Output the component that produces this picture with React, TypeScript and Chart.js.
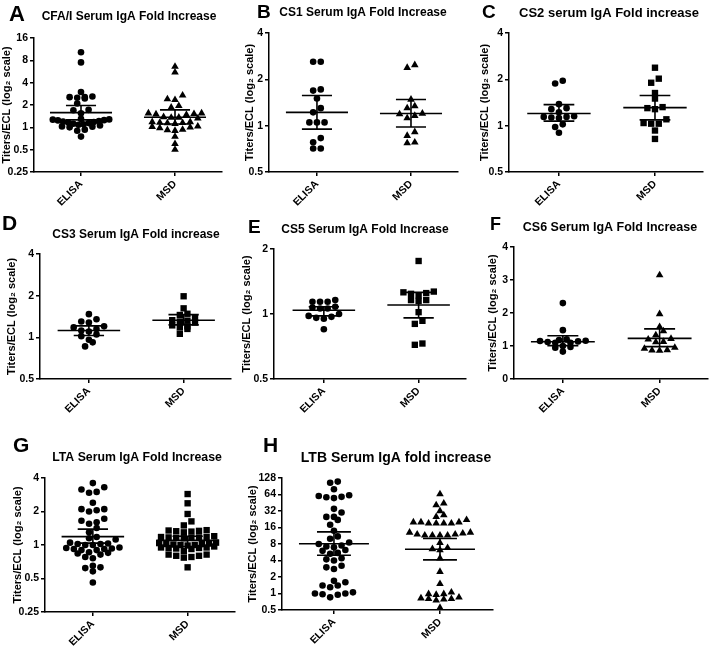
import React, { useEffect, useRef } from "react";
import { Chart, registerables } from "chart.js";
Chart.register(...registerables);

const FONT = '"Liberation Sans", Arial, Helvetica, sans-serif';
const PAGE_W = 714;
const PAGE_H = 646;
const groups = ["ELISA", "MSD"];
const yAxisTitle = "Titers/ECL (log\u2082 scale)";

// ---------- Panel A: CFA/I ----------
const aTicks = [0.25, 0.5, 1, 2, 4, 8, 16];
const aElisa = [10.3, 7.5, 3.0, 2.6, 2.55, 2.5, 2.45, 2.55, 2.1, 1.72, 1.55, 1.7, 1.3, 1.28, 1.25, 1.22, 1.18, 1.14, 1.1, 1.06, 1.02, 1.0, 1.03, 1.08, 1.12, 1.16, 1.2, 1.24, 1.27, 0.93, 0.9, 0.75];
const aMsd = [6.6, 5.5, 2.7, 2.4, 2.35, 1.95, 1.85, 1.55, 1.5, 1.52, 1.48, 1.55, 1.38, 1.35, 1.32, 1.36, 1.18, 1.15, 1.12, 1.16, 1.14, 1.18, 1.02, 1.0, 0.98, 1.03, 0.93, 0.92, 0.9, 0.75, 0.6, 0.5];
const aMean = [1.58, 1.37];
const aLow = [1.26, 1.11];
const aHigh = [1.97, 1.72];

// ---------- Panel B: CS1 ----------
const bTicks = [0.5, 1, 2, 4];
const bElisa = [2.6, 2.6, 1.72, 1.69, 1.5, 1.3, 1.22, 1.05, 1.05, 1.05, 0.83, 0.78, 0.71, 0.71];
const bMsd = [2.48, 2.38, 1.48, 1.34, 1.3, 1.19, 1.2, 1.12, 1.16, 0.91, 0.86, 0.77, 0.78];
const bMean = [1.22, 1.2];
const bLow = [0.95, 0.98];
const bHigh = [1.57, 1.48];

// ---------- Panel C: CS2 ----------
const cTicks = [0.5, 1, 2, 4];
const cElisa = [1.96, 1.88, 1.38, 1.3, 1.28, 1.22, 1.15, 1.14, 1.13, 1.14, 1.12, 1.02, 0.98, 0.9];
const cMsd = [2.38, 2.02, 1.9, 1.63, 1.5, 1.3, 1.28, 1.32, 1.1, 1.04, 1.03, 1.03, 0.93, 0.82];
const cMean = [1.2, 1.31];
const cLow = [1.07, 1.09];
const cHigh = [1.37, 1.57];

// ---------- Panel D: CS3 ----------
const dTicks = [0.5, 1, 2, 4];
const dElisa = [1.47, 1.35, 1.3, 1.28, 1.2, 1.18, 1.15, 1.12, 1.1, 1.05, 1.02, 0.96, 0.92, 0.86];
const dMsd = [1.98, 1.62, 1.48, 1.45, 1.38, 1.33, 1.32, 1.3, 1.28, 1.22, 1.2, 1.18, 1.15, 1.06];
const dMean = [1.12, 1.33];
const dLow = [1.03, 1.23];
const dHigh = [1.21, 1.46];

// ---------- Panel E: CS5 ----------
const eTicks = [0.5, 1, 2];
const eElisa = [1.16, 1.14, 1.14, 1.14, 1.08, 1.07, 1.06, 1.06, 1.0, 0.98, 0.97, 0.96, 0.95, 0.85];
const eMsd = [1.76, 1.27, 1.25, 1.24, 1.22, 1.26, 1.16, 1.15, 1.16, 1.02, 0.93, 0.9, 0.73, 0.72];
const eMean = [1.04, 1.1];
const eLow = [0.98, 0.96];
const eHigh = [1.08, 1.26];

// ---------- Panel F: CS6 ----------
const fTicks = [0, 1, 2, 3, 4];
const fElisa = [2.3, 1.48, 1.2, 1.18, 1.16, 1.15, 1.14, 1.12, 1.1, 1.1, 1.0, 0.97, 0.95, 0.83];
const fMsd = [3.15, 1.97, 1.58, 1.45, 1.33, 1.22, 1.12, 1.13, 1.2, 0.95, 0.88, 0.86, 0.87, 0.92];
const fMean = [1.13, 1.23];
const fLow = [1.01, 0.98];
const fHigh = [1.31, 1.52];

// ---------- Panel G: LTA ----------
const gTicks = [0.25, 0.5, 1, 2, 4];
const gElisa = [3.6, 3.3, 3.15, 3.0, 2.95, 2.4, 2.1, 2.0, 2.05, 2.1, 1.72, 1.65, 1.6, 1.55, 1.42, 1.3, 1.18, 1.15, 1.12, 1.05, 1.02, 1.0, 1.0, 1.02, 1.03, 0.95, 0.93, 0.92, 0.9, 0.92, 0.94, 0.9, 0.85, 0.84, 0.82, 0.86, 0.78, 0.76, 0.65, 0.63, 0.62, 0.58, 0.46];
const gMsd = [2.87, 2.37, 1.9, 1.63, 1.5, 1.36, 1.34, 1.33, 1.35, 1.32, 1.3, 1.2, 1.18, 1.17, 1.16, 1.18, 1.17, 1.15, 1.16, 1.05, 1.03, 1.02, 1.0, 1.01, 1.0, 0.99, 1.02, 1.04, 0.97, 0.95, 0.94, 0.93, 0.92, 0.94, 0.95, 0.88, 0.82, 0.8, 0.78, 0.77, 0.8, 0.82, 0.63];
const gMean = [1.19, 1.1];
const gLow = [1.04, 0.97];
const gHigh = [1.39, 1.2];

// ---------- Panel H: LTB ----------
const hTicks = [0.5, 1, 2, 4, 8, 16, 32, 64, 128];
const hElisa = [110, 105, 80, 62, 58, 55, 57, 60, 35, 30, 25, 22, 25, 18, 14, 11, 10, 8.5, 8, 7.5, 7, 7.2, 6.2, 6, 5.5, 5.3, 4.2, 4, 4.4, 3, 2.8, 3.2, 1.7, 1.4, 1.6, 1.3, 1.4, 1.05, 1.0, 0.95, 0.97, 1.0, 0.85];
const hMsd = [65, 44, 41, 32, 27, 25, 20, 19, 19, 19, 19, 20, 20, 22, 13, 12.5, 11.5, 11.5, 11.5, 11.5, 12, 12, 13, 8.4, 6.8, 6.2, 6.5, 4.4, 2.5, 1.5, 1.05, 0.98, 0.85, 0.8, 0.8, 0.78, 0.75, 0.82, 0.95, 0.98, 0.55];
const hMean = [8.1, 6.4];
const hLow = [5.0, 4.1];
const hHigh = [13.3, 10.1];

type PanelDef = {
  letter: string;
  title: string;
  yType: "logarithmic" | "linear";
  yMin: number;
  yMax: number;
  ticks: number[];
  series: number[][];
  styles: string[];
  mean: number[];
  low: number[];
  high: number[];
  area: { left: number; right: number; top: number; bottom: number };
  xMin: number;
  xMax: number;
  yTitleGap: number;
  letterPos: [number, number, number];
  titlePos: [number, number, number];
};

const panels: PanelDef[] = [
  { letter: "A", title: "CFA/I Serum IgA Fold Increase", yType: "logarithmic", yMin: 0.25, yMax: 16, ticks: aTicks,
    series: [aElisa, aMsd], styles: ["circle", "triangle"], mean: aMean, low: aLow, high: aHigh,
    area: { left: 34, right: 222, top: 38, bottom: 172 }, xMin: 0.5, xMax: 2.5, yTitleGap: 27,
    letterPos: [9, 21, 22], titlePos: [129, 17, 12] },
  { letter: "B", title: "CS1 Serum IgA Fold Increase", yType: "logarithmic", yMin: 0.5, yMax: 4, ticks: bTicks,
    series: [bElisa, bMsd], styles: ["circle", "triangle"], mean: bMean, low: bLow, high: bHigh,
    area: { left: 269, right: 458, top: 33, bottom: 172 }, xMin: 0.49, xMax: 2.5, yTitleGap: 19,
    letterPos: [257, 18, 19], titlePos: [363, 13, 12] },
  { letter: "C", title: "CS2 serum IgA Fold increase", yType: "logarithmic", yMin: 0.5, yMax: 4, ticks: cTicks,
    series: [cElisa, cMsd], styles: ["circle", "rect"], mean: cMean, low: cLow, high: cHigh,
    area: { left: 509, right: 703, top: 33, bottom: 172 }, xMin: 0.48, xMax: 2.5, yTitleGap: 24,
    letterPos: [482, 18, 19], titlePos: [609, 13, 13] },
  { letter: "D", title: "CS3 Serum IgA Fold increase", yType: "logarithmic", yMin: 0.5, yMax: 4, ticks: dTicks,
    series: [dElisa, dMsd], styles: ["circle", "rect"], mean: dMean, low: dLow, high: dHigh,
    area: { left: 40, right: 231, top: 254, bottom: 379 }, xMin: 0.484, xMax: 2.5, yTitleGap: 28,
    letterPos: [2, 230, 21], titlePos: [136, 235, 12] },
  { letter: "E", title: "CS5 Serum IgA Fold Increase", yType: "logarithmic", yMin: 0.5, yMax: 2, ticks: eTicks,
    series: [eElisa, eMsd], styles: ["circle", "rect"], mean: eMean, low: eLow, high: eHigh,
    area: { left: 274, right: 466, top: 249, bottom: 379 }, xMin: 0.474, xMax: 2.5, yTitleGap: 27,
    letterPos: [248, 233, 19], titlePos: [365, 230, 12] },
  { letter: "F", title: "CS6 Serum IgA Fold Increase", yType: "linear", yMin: 0, yMax: 4, ticks: fTicks,
    series: [fElisa, fMsd], styles: ["circle", "triangle"], mean: fMean, low: fLow, high: fHigh,
    area: { left: 514, right: 708, top: 247, bottom: 379 }, xMin: 0.495, xMax: 2.5, yTitleGap: 21,
    letterPos: [490, 230, 18], titlePos: [610, 228, 12.5] },
  { letter: "G", title: "LTA Serum IgA Fold Increase", yType: "logarithmic", yMin: 0.25, yMax: 4, ticks: gTicks,
    series: [gElisa, gMsd], styles: ["circle", "rect"], mean: gMean, low: gLow, high: gHigh,
    area: { left: 45, right: 235, top: 478, bottom: 612 }, xMin: 0.495, xMax: 2.5, yTitleGap: 27,
    letterPos: [13, 452, 21], titlePos: [137, 458, 12.3] },
  { letter: "H", title: "LTB Serum IgA fold increase", yType: "logarithmic", yMin: 0.5, yMax: 128, ticks: hTicks,
    series: [hElisa, hMsd], styles: ["circle", "triangle"], mean: hMean, low: hLow, high: hHigh,
    area: { left: 282, right: 493, top: 478, bottom: 610 }, xMin: 0.51, xMax: 2.5, yTitleGap: 29,
    letterPos: [263, 452, 21], titlePos: [396, 458, 14] },
];

// Prism-like column scatter: rows of near-equal values spread centre-out
function swarmOffsets(ys: number[], spacing: number, rowH: number, maxHalf: number): number[] {
  const idx = ys.map((_, i) => i).sort((a, b) => ys[b] - ys[a]);
  const off = new Array(ys.length).fill(0);
  let k = 0;
  while (k < idx.length) {
    const start = ys[idx[k]];
    const row: number[] = [];
    while (k < idx.length && start - ys[idx[k]] <= rowH) {
      row.push(idx[k]);
      k++;
    }
    const n = row.length;
    const step = n > 1 ? Math.min(spacing, (2 * maxHalf) / (n - 1)) : 0;
    row.forEach((pi, j) => {
      let pos: number;
      if (n % 2 === 1) {
        const m = Math.ceil(j / 2);
        pos = j === 0 ? 0 : j % 2 === 1 ? -m : m;
      } else {
        const m = Math.floor(j / 2) + 0.5;
        pos = j % 2 === 0 ? -m : m;
      }
      off[pi] = pos * step;
    });
  }
  return off;
}

function radiusFor(style: string) {
  if (style === "circle") return 3.3;
  if (style === "rect") return 4.5;
  return 4.4;
}

function PanelChart({ p }: { p: PanelDef }) {
  const ref = useRef<HTMLCanvasElement | null>(null);
  useEffect(() => {
    const canvas = ref.current;
    if (!canvas) return;
    const yW = p.yTitleGap + 6.6;
    const xH = 45;
    const lineW = 1.5;

    const swarmPlugin = {
      id: "swarm" + p.letter,
      afterDatasetsUpdate(chart: any) {
        const xs = chart.scales.x;
        const unitPx = Math.abs(xs.getPixelForValue(2) - xs.getPixelForValue(1));
        chart.data.datasets.forEach((_: any, i: number) => {
          const meta = chart.getDatasetMeta(i);
          const cx = xs.getPixelForValue(i + 1);
          const els = meta.data;
          const ys = els.map((e: any) => e.y);
          const offs = swarmOffsets(ys, 7.6, 5.5, unitPx * 0.3);
          els.forEach((e: any, k: number) => {
            e.x = cx + offs[k];
          });
        });
      },
    };

    const meanPlugin = {
      id: "mean" + p.letter,
      afterDatasetsDraw(chart: any) {
        const ctx = chart.ctx;
        const xs = chart.scales.x;
        const ys = chart.scales.y;
        ctx.save();
        ctx.strokeStyle = "#000";
        ctx.lineWidth = 1.6;
        for (let i = 0; i < 2; i++) {
          const c = i + 1;
          const ym = ys.getPixelForValue(p.mean[i]);
          const yl = ys.getPixelForValue(p.low[i]);
          const yh = ys.getPixelForValue(p.high[i]);
          const xc = xs.getPixelForValue(c);
          ctx.beginPath();
          ctx.moveTo(xs.getPixelForValue(c - 0.33), ym);
          ctx.lineTo(xs.getPixelForValue(c + 0.33), ym);
          ctx.moveTo(xc, yl);
          ctx.lineTo(xc, yh);
          ctx.moveTo(xs.getPixelForValue(c - 0.16), yl);
          ctx.lineTo(xs.getPixelForValue(c + 0.16), yl);
          ctx.moveTo(xs.getPixelForValue(c - 0.16), yh);
          ctx.lineTo(xs.getPixelForValue(c + 0.16), yh);
          ctx.stroke();
        }
        ctx.restore();
      },
    };

    const textPlugin = {
      id: "text" + p.letter,
      afterDraw(chart: any) {
        const ctx = chart.ctx;
        ctx.save();
        ctx.fillStyle = "#000";
        ctx.font = `bold ${p.letterPos[2]}px ${FONT}`;
        ctx.textAlign = "left";
        ctx.textBaseline = "alphabetic";
        ctx.fillText(p.letter, p.letterPos[0], p.letterPos[1]);
        ctx.font = `bold ${p.titlePos[2]}px ${FONT}`;
        ctx.textAlign = "center";
        ctx.textBaseline = "middle";
        ctx.fillText(p.title, p.titlePos[0], p.titlePos[1]);
        ctx.restore();
      },
    };

    const datasets = p.series.map((vals, i) => ({
      label: groups[i],
      data: vals.map((v) => ({ x: i + 1, y: v })),
      pointStyle: p.styles[i],
      pointRadius: radiusFor(p.styles[i]),
      pointBackgroundColor: "#000",
      pointBorderColor: "#000",
      pointBorderWidth: 0,
      showLine: false,
    }));

    const tickFont = { family: FONT, size: 10.5, weight: "bold" as const };

    const chart = new Chart(canvas, {
      type: "scatter",
      data: { datasets },
      options: {
        responsive: false,
        animation: false,
        events: [],
        layout: {
          padding: {
            left: p.area.left - yW,
            right: PAGE_W - p.area.right,
            top: p.area.top,
            bottom: PAGE_H - p.area.bottom - xH,
          },
        },
        plugins: { legend: { display: false }, tooltip: { enabled: false }, title: { display: false } },
        scales: {
          x: {
            type: "linear",
            min: p.xMin,
            max: p.xMax,
            afterBuildTicks: (s: any) => {
              s.ticks = groups.map((_, i) => ({ value: i + 1 }));
            },
            afterFit: (s: any) => {
              s.height = xH;
            },
            ticks: {
              autoSkip: false,
              minRotation: 45,
              maxRotation: 45,
              color: "#000",
              padding: 2,
              font: { family: FONT, size: 10.5, weight: "bold" },
              callback: (v: any) => groups[Number(v) - 1] ?? "",
            },
            grid: { drawOnChartArea: false, drawTicks: true, tickLength: 4, color: "#000", lineWidth: lineW },
            border: { display: true, color: "#000", width: lineW },
          },
          y: {
            type: p.yType,
            min: p.yMin,
            max: p.yMax,
            afterBuildTicks: (s: any) => {
              s.ticks = p.ticks.map((v) => ({ value: v }));
            },
            afterFit: (s: any) => {
              s.width = yW;
            },
            ticks: {
              color: "#000",
              padding: 2,
              font: tickFont,
              autoSkip: false,
              callback: (v: any) => String(v),
            },
            title: {
              display: true,
              text: yAxisTitle,
              color: "#000",
              padding: 0,
              font: { family: FONT, size: 11, weight: "bold" },
            },
            grid: { drawOnChartArea: false, drawTicks: true, tickLength: 4, color: "#000", lineWidth: lineW },
            border: { display: true, color: "#000", width: lineW },
          },
        },
      } as any,
      plugins: [swarmPlugin, meanPlugin, textPlugin],
    });
    return () => chart.destroy();
  }, [p]);
  return (
    <canvas
      ref={ref}
      width={PAGE_W}
      height={PAGE_H}
      style={{ position: "absolute", left: 0, top: 0, width: PAGE_W, height: PAGE_H, pointerEvents: "none" }}
    />
  );
}

export default function App() {
  return (
    <div style={{ position: "absolute", left: 0, top: 0, width: PAGE_W, height: PAGE_H, background: "#fff" }}>
      {panels.map((p) => (
        <PanelChart key={p.letter} p={p} />
      ))}
    </div>
  );
}
